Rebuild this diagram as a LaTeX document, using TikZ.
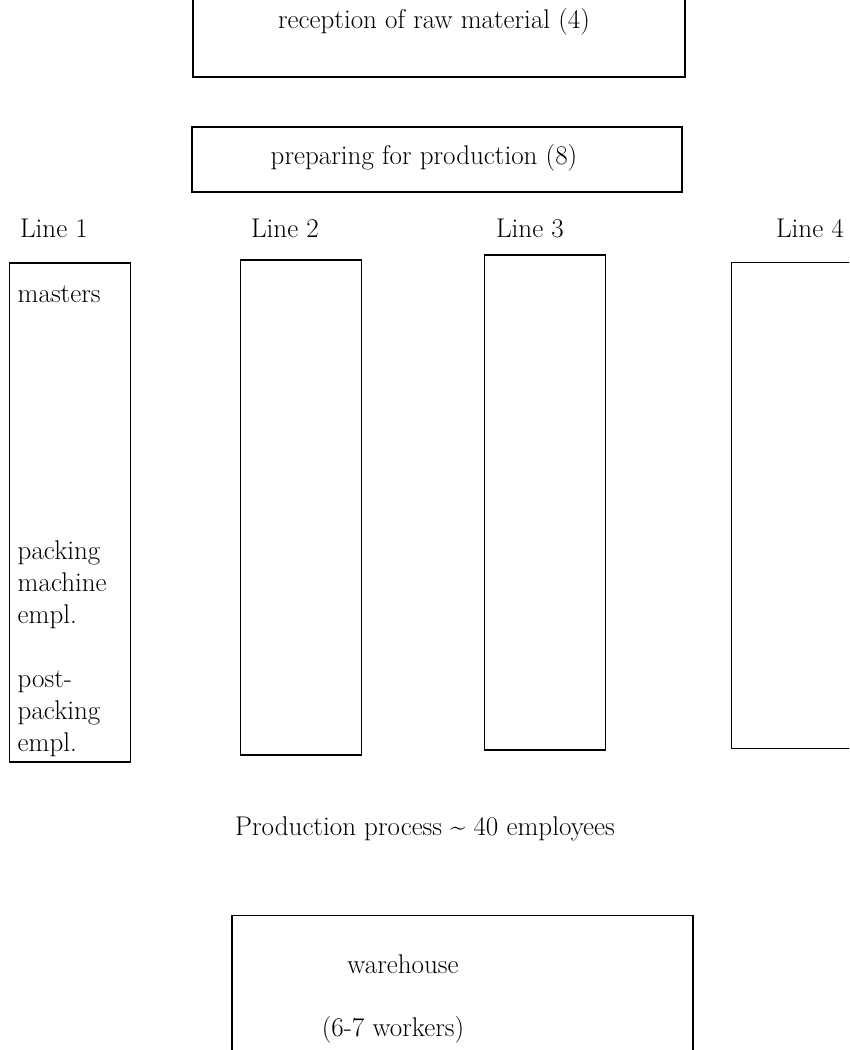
\documentclass[tikz,border=0pt]{standalone}
\usepackage{fontspec}

\begin{document}
\begin{tikzpicture}[x=0.02cm,y=-0.02cm,
		line width=0.8pt,
		box/.style={rectangle,draw,inner sep=0pt},
		line box/.style={box,minimum width=2.42cm,minimum height=9.9cm},
		txt/.style={inner sep=0pt,font=\fontsize{15.4}{18.2}\selectfont},
		role/.style={txt,anchor=west,align=left}]
		
		\clip (0,0) rectangle (849,1050);
		
		% top part, cut off by the page
		\node[box,minimum width=9.84cm,minimum height=1.94cm] (recv) at (439,28.5) {};
		\node[txt] (recvtxt) at (434,22) {reception of raw material (4)};
		\node[box,minimum width=9.8cm,minimum height=1.3cm] (prep) at (437,159.5) {};
		\node[txt] (preptxt) at (424,158) {preparing for production (8)};
		
		% the four lines
		\node[txt] (l1) at (54,228) {Line 1};
		\node[txt] (l2) at (285,228) {Line 2};
		\node[txt] (l3) at (530,228) {Line 3};
		\node[txt] (l4) at (810,228) {Line 4};
		
		\node[line box,minimum height=9.98cm] (line1) at (70,512.5) {};
		\node[line box] (line2) at (301,507.5) {};
		\node[line box] (line3) at (545,502.5) {};
		\node[line box,minimum height=9.72cm,anchor=north west] (line4) at (731,262) {};
		
		\node[role] (masters) at (17,294) {masters};
		\node[role] (packing) at (17,585) {packing\\machine\\empl.};
		\node[role] (post) at (17,714) {post-\\packing\\empl.};
		
		\node[txt] (process) at (425,829) {Production process \textasciitilde\ 40 employees};
		
		% warehouse, cut off at the bottom
		\node[box,minimum width=9.22cm,minimum height=3cm,anchor=north] (store) at (462.5,915) {};
		\node[txt] (storetxt) at (403,964) {warehouse};
		\node[txt] (workers) at (393,1030) {(6-7 workers)};
\end{tikzpicture}
\end{document}
